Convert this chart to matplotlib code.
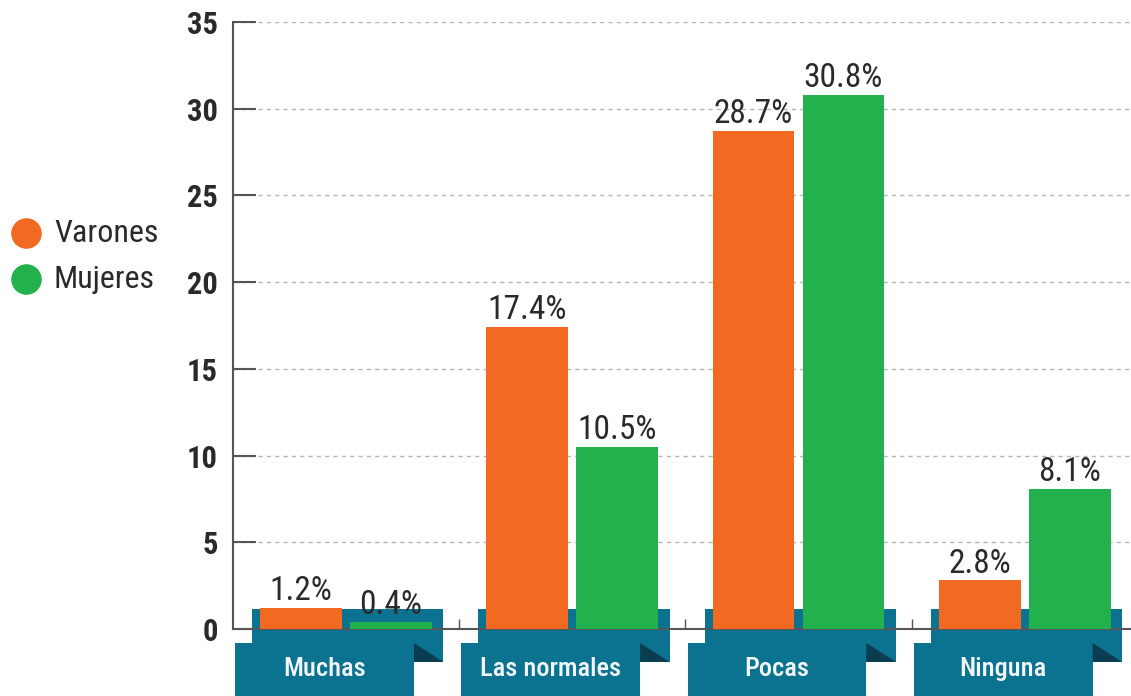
import numpy as np
import matplotlib
matplotlib.use('Agg')
import matplotlib.pyplot as plt
from matplotlib.patches import Rectangle, Polygon
from matplotlib.lines import Line2D

# Data
categories = ['Muchas', 'Las normales', 'Pocas', 'Ninguna']
varones = [1.2, 17.4, 28.7, 2.8]
mujeres = [0.4, 10.5, 30.8, 8.1]
series_names = ['Varones', 'Mujeres']
yticks = [0, 5, 10, 15, 20, 25, 30, 35]

orange = '#F26A21'
green = '#23B14D'
teal = '#0B7390'
dark_teal = '#0A3D52'
txt = '#2A2A2A'

plt.rcParams['font.family'] = ['Roboto Condensed', 'DejaVu Sans']

W, H = 1131, 696
fig = plt.figure(figsize=(W / 100, H / 100), dpi=100)
ax = fig.add_axes([233 / W, 67 / H, (W - 233) / W, (629 - 22) / H])

x = np.arange(len(categories))
bw = 0.362
off = 0.199

ax.set_xlim(-0.5, 3.47)
ax.set_ylim(0, 35)

# teal ribbons under each group (decoration, data units)
for xi, cat in zip(x, categories):
    ax.add_patch(Rectangle((xi - 0.415, -1.90), 0.845, 3.05, fc=teal, ec='none',
                           zorder=1.5, clip_on=False))
    ax.add_patch(Rectangle((xi - 0.49, -4.2), 0.79, 3.39, fc=teal, ec='none',
                           zorder=1.6, clip_on=False))
    ax.add_patch(Polygon([(xi + 0.30, -0.807), (xi + 0.43, -1.90), (xi + 0.30, -1.90)],
                         closed=True, fc=dark_teal, ec='none', zorder=1.7, clip_on=False))
    ax.text(xi - 0.095, -2.3, cat, ha='center', va='center', color='#F2F6F8',
            fontsize=19, fontweight='medium', zorder=4, clip_on=False)

# bars
ax.bar(x - off, varones, bw, color=orange, zorder=3)
ax.bar(x + off, mujeres, bw, color=green, zorder=3)

for xi, v in zip(x - off, varones):
    ax.text(xi, v + 0.05, f'{v}%', ha='center', va='bottom', fontsize=24, color=txt, zorder=5)
for xi, v in zip(x + off, mujeres):
    ax.text(xi, v + 0.05, f'{v}%', ha='center', va='bottom', fontsize=24, color=txt, zorder=5)

# axes styling
for s in ('top', 'right'):
    ax.spines[s].set_visible(False)
for s in ('left', 'bottom'):
    ax.spines[s].set_color('#555555')
    ax.spines[s].set_linewidth(1.5)
    ax.spines[s].set_zorder(2.5)

ax.set_yticks(yticks)
ax.set_yticklabels([str(t) for t in yticks], fontsize=22, fontweight='bold', color=txt)
ax.tick_params(axis='y', direction='in', length=16.5, width=1.5, color='#555555', pad=11)
ax.set_xticks([0.5, 1.5, 2.5])
ax.set_xticklabels([])
ax.tick_params(axis='x', direction='in', length=7, width=1, color='#555555')
ax.yaxis.grid(True, linestyle=(0, (3, 3)), color='#B5B5B5', lw=1)
ax.set_axisbelow(True)

# legend
for yy, c, name in zip([233, 279], [orange, green], series_names):
    fig.add_artist(Line2D([26 / W], [1 - yy / H], marker='o', markersize=21,
                          color=c, linestyle='none', transform=fig.transFigure))
    fig.text(54 / W, 1 - yy / H, name, ha='left', va='center', fontsize=23, color=txt)

fig.savefig('out.png', dpi=100)
